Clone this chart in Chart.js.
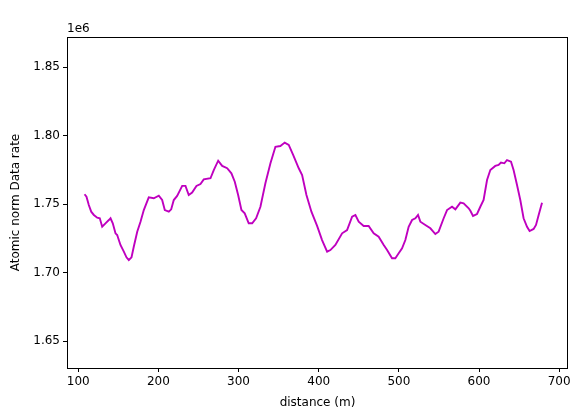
<!DOCTYPE html>
<html>
<head>
<meta charset="utf-8">
<script src="https://cdn.jsdelivr.net/npm/chart.js@4"></script>
<style>
html,body{margin:0;padding:0;background:#fff;}
#wrap{width:573px;height:415px;}
</style>
</head>
<body>
<div id="wrap"><canvas id="c" width="573" height="415"></canvas></div>
<script>
const distance = [107.9,110.3,113.2,116.2,119.5,123.7,126.9,129.9,134.0,138.2,140.3,143.1,146.5,148.6,152.7,156.9,160.2,163.1,166.5,169.3,173.6,177.7,181.8,188.0,194.3,200.5,204.7,208.0,213.0,216.0,219.2,223.4,229.7,233.8,237.9,242.1,247.5,252.5,256.6,265.0,269.1,274.6,279.6,285.8,291.1,295.3,299.5,303.6,307.7,312.7,317.0,321.9,327.3,333.5,339.8,346.0,352.2,357.6,362.6,368.1,375.1,379.3,384.7,390.9,398.0,404.2,410.5,414.6,420.8,429.2,435.4,441.7,445.8,449.9,456.1,462.3,468.6,474.8,481.1,485.3,491.5,495.6,499.8,504.0,508.1,512.2,516.5,520.6,523.9,526.8,533.0,539.3,545.5,549.6,555.9,560.1,566.3,570.5,576.7,580.8,587.1,589.2,592.5,597.5,601.6,605.7,610.0,614.1,620.3,624.4,627.4,631.6,634.9,639.9,643.1,647.4,651.5,655.6,659.9,663.1,668.1,671.1,674.4,678.6];
const dataRate = [1757300,1755500,1749500,1744600,1742200,1740200,1739800,1733600,1736100,1738500,1739800,1736100,1728800,1727600,1720300,1715400,1711300,1709300,1711300,1719000,1730000,1737300,1745800,1755100,1754400,1756300,1753100,1745800,1744600,1746300,1753100,1756100,1763400,1763400,1756800,1758500,1763400,1764800,1768200,1769000,1775000,1781800,1778000,1776300,1772600,1766500,1756800,1745800,1743400,1736100,1736100,1739800,1748200,1765300,1779900,1792000,1792500,1795000,1793300,1786000,1776300,1771400,1756800,1744600,1734200,1723900,1715400,1716600,1720300,1728800,1731200,1740900,1742200,1737300,1734200,1734200,1728800,1726300,1720300,1716600,1710600,1710600,1714200,1717900,1723900,1733600,1738500,1739800,1742200,1737300,1734900,1732500,1728300,1730000,1739800,1745800,1748200,1746300,1751200,1750700,1747100,1745300,1741500,1742900,1748200,1753100,1767700,1775000,1778000,1778700,1780400,1779900,1782300,1781100,1775000,1764100,1753100,1739800,1733600,1730500,1732000,1734900,1742200,1751200];
const xTicks = [100,200,300,400,500,600,700];
const yTicks = [1650000,1700000,1750000,1800000,1850000];
const xLabel = 'distance (m)';
const yLabel = 'Atomic norm Data rate';
const offsetText = '1e6';

const FONT = 'DejaVu Sans';
Chart.defaults.font.family = FONT;
Chart.defaults.font.size = 12;
Chart.defaults.color = '#000';

const frame = {
  id: 'frame',
  afterDatasetsDraw(chart) {
    const {ctx, chartArea: a} = chart;
    ctx.save();
    ctx.strokeStyle = '#000';
    ctx.lineWidth = 1;
    ctx.strokeRect(Math.round(a.left) + 0.5, Math.round(a.top) + 0.5, Math.round(a.right - a.left) - 1, Math.round(a.bottom - a.top));
    ctx.fillStyle = '#000';
    ctx.font = '12px "' + FONT + '"';
    ctx.textAlign = 'left';
    ctx.textBaseline = 'bottom';
    ctx.fillText(offsetText, a.left, a.top - 2);
    ctx.restore();
  }
};

new Chart(document.getElementById('c'), {
  type: 'line',
  data: {
    datasets: [{
      data: distance.map((d, i) => ({x: d, y: dataRate[i]})),
      borderColor: '#bf00bf',
      borderWidth: 1.9,
      pointRadius: 0,
      tension: 0,
      fill: false
    }]
  },
  options: {
    responsive: false,
    animation: false,
    events: [],
    layout: {padding: {left: 0, top: 37, right: 5, bottom: 0}},
    plugins: {legend: {display: false}, tooltip: {enabled: false}},
    scales: {
      x: {
        type: 'linear',
        min: 86,
        max: 711,
        afterBuildTicks(s) { s.ticks = xTicks.map(v => ({value: v})); },
        afterFit(s) { s.height = 47; s.paddingLeft = 0; s.paddingRight = 0; },
        grid: {display: true, drawOnChartArea: false, tickLength: 4, color: '#000', tickColor: '#000'},
        border: {display: false},
        ticks: {padding: 3, maxRotation: 0, autoSkip: false, color: '#000', font: {size: 12}},
        title: {display: true, text: xLabel, color: '#000', font: {size: 12}, padding: {top: 0, bottom: 5}}
      },
      y: {
        type: 'linear',
        min: 1630500,
        max: 1872100,
        afterBuildTicks(s) { s.ticks = yTicks.map(v => ({value: v})); },
        afterFit(s) { s.width = 67; s.paddingTop = 0; s.paddingBottom = 0; },
        grid: {display: true, drawOnChartArea: false, tickLength: 4, color: '#000', tickColor: '#000'},
        border: {display: false},
        ticks: {padding: 3, autoSkip: false, color: '#000', font: {size: 12}, callback: v => (v / 1e6).toFixed(2)},
        title: {display: true, text: yLabel, color: '#000', font: {size: 12}, padding: {top: 9, bottom: 0}}
      }
    }
  },
  plugins: [frame]
});
</script>
</body>
</html>
